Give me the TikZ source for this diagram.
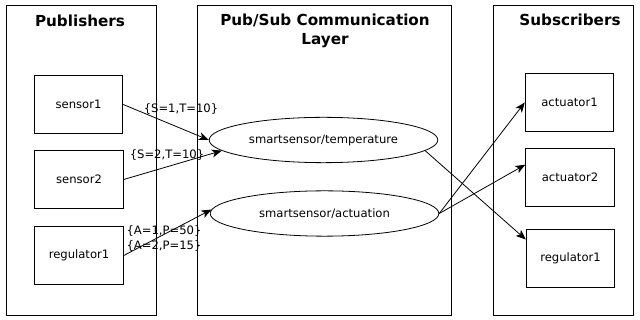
\documentclass[tikz,border=0pt]{standalone}
\usepackage{fontspec}
\setmainfont{DejaVu Sans}
\usetikzlibrary{shapes}
\usetikzlibrary{arrows.meta}

\begin{document}
\begin{tikzpicture}[x=0.75pt, y=-0.75pt,
   every node/.style={font=\fontsize{8.7}{10}\selectfont, inner sep=0pt},
   layer/.style={draw, line width=0.6pt, minimum height=233pt},
   client/.style={draw, line width=0.6pt, minimum width=66.5pt, minimum height=44pt},
   topic/.style={draw, ellipse, line width=0.6pt, minimum width=171.5pt, minimum height=34pt},
   heading/.style={font=\fontsize{11.4}{14.25}\selectfont\bfseries, align=center},
   msg/.style={font=\fontsize{8.7}{10}\selectfont},
   pub/.style={-{Stealth[length=7.5pt, width=6pt, inset=2pt]}, line width=0.6pt}]
\useasboundingbox (0,0) rectangle (640,320);
% the three layers
\node[layer, minimum width=113pt] (P) at (81.5,160.5) {};
\node[layer, minimum width=190.5pt] (L) at (324,160.5) {};
\node[layer, minimum width=105.5pt] (S) at (563.5,160.5) {};
\node[heading] (Ptitle) at (80,21) {Publishers};
\node[heading] (Ltitle) at (325,30.5) {Pub/Sub Communication\\Layer};
\node[heading] (Stitle) at (570,20) {Subscribers};
% publishers
\node[client] (sensor1) at (78.5,104.5) {sensor1};
\node[client] (sensor2) at (79,179.5) {sensor2};
\node[client] (regulator1) at (79,255.5) {regulator1};
% topics
\node[topic] (temp) at (323.5,140) {smartsensor/temperature};
\node[topic] (act) at (324.5,213.5) {smartsensor/actuation};
% subscribers
\node[client] (actuator1) at (569.5,102.5) {actuator1};
\node[client] (actuator2) at (570,177.5) {actuator2};
\node[client] (regulator1s) at (570.5,258.5) {regulator1};
% messages
\node[msg] (m1) at (181,109) {\{S=1,T=10\}};
\node[msg] (m2) at (167,155) {\{S=2,T=10\}};
\node[msg] (m3) at (164,231) {\{A=1,P=50\}};
\node[msg] (m4) at (164,246) {\{A=2,P=15\}};
% connections
\draw[pub] (sensor1.east) -- (temp.west);
\draw[pub] (sensor2.east) -- (temp.186);
\draw[pub] (regulator1.east) -- (act.178);
\draw[pub] (temp.-6) -- (regulator1s.157);
\draw[pub] (act.east) -- (actuator1.west);
\draw[pub] (act.east) -- (actuator2.164);
\end{tikzpicture}
\end{document}
